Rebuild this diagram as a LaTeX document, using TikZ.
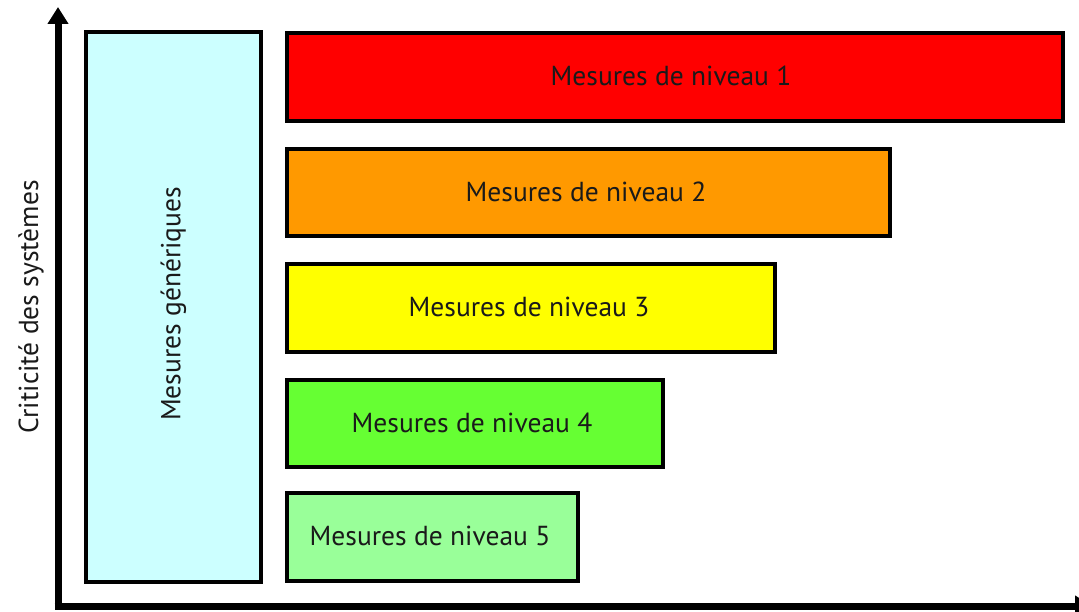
\documentclass[tikz,border=0pt]{standalone}
\usepackage{fontspec}
\setmainfont{PT Sans}
\usetikzlibrary{arrows.meta}
\definecolor{lvlA}{HTML}{FF0000}
\definecolor{lvlB}{HTML}{FF9900}
\definecolor{lvlC}{HTML}{FFFF00}
\definecolor{lvlD}{HTML}{66FF33}
\definecolor{lvlE}{HTML}{99FF99}
\definecolor{gen}{HTML}{CCFFFF}
\definecolor{txt}{HTML}{1A1A1A}
\tikzset{
  lvlbox/.style={draw=black, line width=3.5pt},
  lbl/.style={font=\fontsize{27.5}{32}\selectfont, text=txt, inner sep=0pt},
  axis/.style={line width=7pt, -{Triangle[width=20pt,length=17pt]}},
}
\begin{document}
\begin{tikzpicture}[x=1pt,y=-1pt]
\useasboundingbox (0,0) rectangle (1079,612);
\fill[white] (0,0) rectangle (1079,612);
% axes
\coordinate (ytop) at (58,7);
\coordinate (xend) at (1092,606);
\draw[axis] (58,609.5) -- (ytop);
\draw[axis] (54.5,606) -- (xend);
% generic box
\path[lvlbox, fill=gen] (86,32) rectangle (261,582);
\node[lbl, rotate=90] (gen) at (173.5,304) {Mesures génériques};
\node[lbl, rotate=90] (crit) at (31,307) {Criticité des systèmes};
% levels
\path[lvlbox, fill=lvlA] (287,33) rectangle (1063,121);
\node[lbl] (l1) at (671,76) {Mesures de niveau 1};
\path[lvlbox, fill=lvlB] (287,149) rectangle (890,236);
\node[lbl] (l2) at (586,192) {Mesures de niveau 2};
\path[lvlbox, fill=lvlC] (287,264) rectangle (775,352);
\node[lbl] (l3) at (529,307) {Mesures de niveau 3};
\path[lvlbox, fill=lvlD] (287,380) rectangle (663,467);
\node[lbl] (l4) at (472,423) {Mesures de niveau 4};
\path[lvlbox, fill=lvlE] (287,493) rectangle (578,581);
\node[lbl] (l5) at (430,536) {Mesures de niveau 5};
\end{tikzpicture}
\end{document}
